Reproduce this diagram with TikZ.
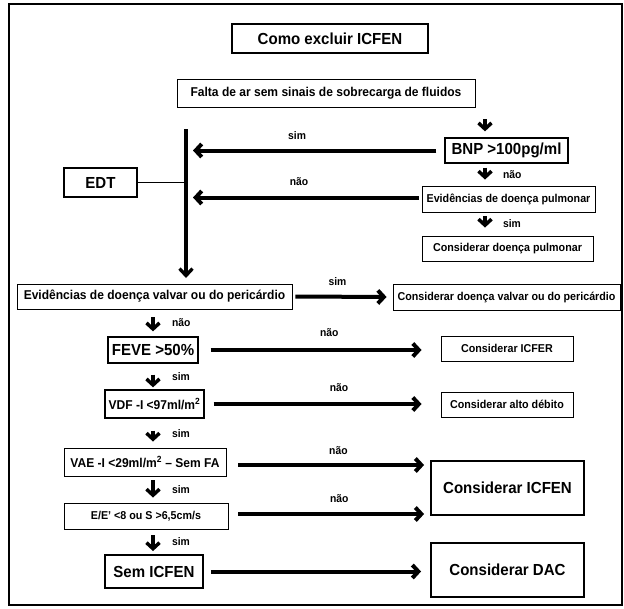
\documentclass[tikz,border=0pt]{standalone}
\usepackage{fontspec}
\setmainfont[FakeStretch=0.94]{Liberation Sans}
\usetikzlibrary{arrows.meta}

\tikzset{
  box/.style={draw, line width=0.9pt, inner sep=0pt, align=center},
  boxm/.style={box, line width=1.3pt},
  boxb/.style={box, line width=1.9pt},
  big/.style={font=\fontsize{16}{18}\selectfont\bfseries},
  mid/.style={font=\fontsize{12.8}{15}\selectfont\bfseries},
  sml/.style={font=\fontsize{11.4}{13}\selectfont\bfseries},
  lbl/.style={font=\fontsize{11}{13}\selectfont\bfseries},
  arr/.style={line width=4pt, -{Straight Barb[length=6pt,width=13pt]}},
  dn/.style={line width=3.5pt, -{Straight Barb[length=6pt,width=13pt]}},
}

\begin{document}
\begin{tikzpicture}[x=1pt, y=-1pt]
  \useasboundingbox (0,0) rectangle (624,608);
  % frame
  \draw[line width=2.2pt] (9,4) rectangle (622,605);

  % boxes
  \node[boxb, big, minimum width=196pt, minimum height=29pt] (title) at (330,38.5) {Como excluir ICFEN};
  \node[box, mid, minimum width=298pt, minimum height=28pt] (falta) at (326,93) {Falta de ar sem sinais de sobrecarga de fluidos};
  \node[boxm, big, minimum width=123pt, minimum height=25pt] (bnp) at (506.5,150.5) {BNP >100pg/ml};
  \node[boxm, big, minimum width=73pt, minimum height=29pt] (edt) at (100.5,182.5) {EDT};
  \node[box, sml, minimum width=173pt, minimum height=26pt] (pulm) at (508.5,199) {Evidências de doença pulmonar};
  \node[box, sml, minimum width=171pt, minimum height=25pt] (cpulm) at (507.5,248.5) {Considerar doença pulmonar};
  \node[box, mid, minimum width=275pt, minimum height=25pt] (valv) at (154.5,296.5) {Evidências de doença valvar ou do pericárdio};
  \node[box, sml, minimum width=227pt, minimum height=26pt] (cvalv) at (506.5,297) {Considerar doença valvar ou do pericárdio};
  \node[boxm, big, minimum width=90pt, minimum height=26pt] (feve) at (153,350) {FEVE >50\%};
  \node[box, sml, minimum width=132pt, minimum height=25pt] (icfer) at (507,348.5) {Considerar ICFER};
  \node[boxm, mid, minimum width=99pt, minimum height=28pt] (vdf) at (154.5,404) {VDF -I <97ml/m\textsuperscript{2}};
  \node[box, sml, minimum width=132pt, minimum height=25pt] (alto) at (507,404.5) {Considerar alto débito};
  \node[box, mid, minimum width=162pt, minimum height=28pt] (vae) at (145,462) {VAE -I <29ml/m\textsuperscript{2} – Sem FA};
  \node[boxb, big, minimum width=153pt, minimum height=54pt] (icfen) at (507.5,488) {Considerar ICFEN};
  \node[box, sml, minimum width=164pt, minimum height=26pt] (ee) at (146,516) {E/E' <8 ou S >6,5cm/s};
  \node[boxb, big, minimum width=98pt, minimum height=33pt] (sem) at (154,571.5) {Sem ICFEN};
  \node[boxb, big, minimum width=153pt, minimum height=54pt] (dac) at (507.5,570) {Considerar DAC};

  % trunk
  \coordinate (vtop) at (186,129);
  \coordinate (vbot) at (186,278);
  \draw[line width=3.3pt, -{Straight Barb[length=7pt,width=13pt]}] (vtop) -- (vbot);
  \draw[line width=1.5pt] (edt.east) -- (edt.east -| vtop);

  % arrows into the trunk
  \draw[arr, shorten <=8pt, shorten >=7pt] (bnp.west) -- (bnp.west -| vtop) node[lbl, above=6pt, pos=0.57] {sim};
  \draw[arr, shorten <=3pt, shorten >=7pt] ([yshift=1.5pt]pulm.west) -- ([yshift=1.5pt]pulm.west -| vtop) node[lbl, above=7pt, pos=0.52] {não};

  % right column
  \draw[dn, shorten <=12pt, shorten >=6pt] ([xshift=-21.5pt]bnp.north |- falta.south) -- ([xshift=-21.5pt]bnp.north);
  \draw[dn, shorten <=4pt, shorten >=6pt] ([xshift=-23.5pt]pulm.north |- bnp.south) -- ([xshift=-23.5pt]pulm.north) node[lbl, right=13pt, midway] {não};
  \draw[dn, shorten <=4pt, shorten >=8pt] ([xshift=-23.5pt]pulm.south) -- ([xshift=-23.5pt]pulm.south |- cpulm.north) node[lbl, right=13pt, midway] {sim};

  % valve branch
  \draw[arr, shorten <=3pt, shorten >=6pt] (valv.east) -- (cvalv.west) node[lbl, above=6pt, pos=0.45] {sim};

  % left column
  \draw[dn, shorten <=8pt, shorten >=5pt] (valv.south -| feve.north) -- (feve.north) node[lbl, right=14pt, midway] {não};
  \draw[dn, shorten <=11pt, shorten >=2pt] (feve.south) -- (feve.south |- vdf.north) node[lbl, right=14pt, midway] {sim};
  \draw[dn, shorten <=12pt, shorten >=6pt] (vdf.south -| feve.north) -- (vae.north -| feve.north) node[lbl, right=14pt, midway] {sim};
  \draw[dn, shorten <=4pt, shorten >=5pt] (vae.south -| feve.north) -- (ee.north -| feve.north) node[lbl, right=14pt, midway] {sim};
  \draw[dn, shorten <=6pt, shorten >=3pt] (ee.south -| feve.north) -- (sem.north -| feve.north) node[lbl, right=14pt, midway] {sim};

  % to the right
  \draw[arr, shorten <=12pt, shorten >=19pt] (feve.east) -- (feve.east -| icfer.west) node[lbl, above=8pt, pos=0.54] {não};
  \draw[arr, shorten <=9pt, shorten >=19pt] (vdf.east) -- (vdf.east -| alto.west) node[lbl, above=7pt, pos=0.57] {não};
  \draw[arr, shorten <=12pt, shorten >=6pt] ([yshift=-3pt]vae.east) -- ([yshift=-3pt]vae.east -| icfen.west) node[lbl, above=5pt, pos=0.55] {não};
  \draw[arr, shorten <=10pt, shorten >=6pt] ([yshift=2pt]ee.east) -- ([yshift=2pt]ee.east -| icfen.west) node[lbl, above=6pt, pos=0.55] {não};
  \draw[arr, shorten <=7pt, shorten >=9pt] (sem.east) -- (sem.east -| dac.west);
\end{tikzpicture}
\end{document}
